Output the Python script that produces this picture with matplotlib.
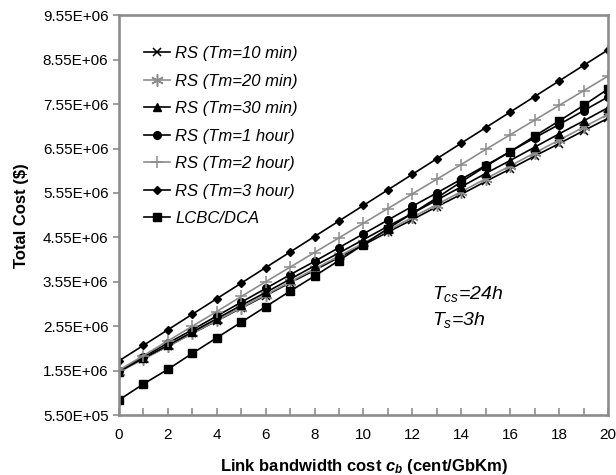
import matplotlib
matplotlib.use("Agg")
import matplotlib.pyplot as plt
from matplotlib.ticker import FixedLocator, FuncFormatter, MultipleLocator

plt.rcParams["font.family"] = ["Liberation Sans", "DejaVu Sans"]
plt.rcParams["mathtext.fontset"] = "custom"
plt.rcParams["mathtext.rm"] = "Liberation Sans"
plt.rcParams["mathtext.it"] = "Liberation Sans:italic"
plt.rcParams["mathtext.bf"] = "Liberation Sans:bold"
plt.rcParams["mathtext.bfit"] = "Liberation Sans:bold:italic"

GRAY = "#8c8c8c"

# link bandwidth cost (cent/GbKm)
cb = list(range(21))

# total cost ($) in units of 1e6
rs_10min = [1.53, 1.82, 2.10, 2.39, 2.67, 2.96, 3.24, 3.53, 3.81, 4.10, 4.38,
            4.67, 4.95, 5.24, 5.52, 5.81, 6.09, 6.38, 6.66, 6.95, 7.23]
rs_20min = [1.52, 1.81, 2.10, 2.39, 2.68, 2.97, 3.26, 3.55, 3.84, 4.13, 4.42,
            4.71, 5.00, 5.29, 5.58, 5.87, 6.16, 6.45, 6.74, 7.03, 7.32]
rs_30min = [1.53, 1.83, 2.12, 2.42, 2.72, 3.02, 3.31, 3.61, 3.91, 4.20, 4.50,
            4.80, 5.09, 5.39, 5.69, 5.99, 6.28, 6.58, 6.88, 7.17, 7.47]
rs_1hour = [1.55, 1.86, 2.17, 2.47, 2.78, 3.09, 3.40, 3.71, 4.01, 4.32, 4.63,
            4.94, 5.25, 5.55, 5.86, 6.17, 6.48, 6.79, 7.09, 7.40, 7.71]
rs_2hour = [1.56, 1.89, 2.22, 2.55, 2.88, 3.22, 3.55, 3.88, 4.21, 4.54, 4.87,
            5.20, 5.53, 5.86, 6.19, 6.53, 6.86, 7.19, 7.52, 7.85, 8.18]
rs_3hour = [1.77, 2.12, 2.47, 2.82, 3.17, 3.52, 3.87, 4.22, 4.57, 4.92, 5.27,
            5.62, 5.97, 6.32, 6.67, 7.02, 7.37, 7.72, 8.07, 8.42, 8.77]
lcbc_dca = [0.89, 1.25, 1.58, 1.94, 2.29, 2.64, 2.99, 3.34, 3.68, 4.03, 4.39,
            4.75, 5.09, 5.44, 5.80, 6.15, 6.48, 6.83, 7.17, 7.52, 7.89]

y_ticks = [0.55, 1.55, 2.55, 3.55, 4.55, 5.55, 6.55, 7.55, 8.55, 9.55]

series = [
    ("RS (Tm=10 min)", rs_10min, "black", "x", 6, 1.1),
    ("RS (Tm=20 min)", rs_20min, GRAY, (6, 2, 0), 9, 1.1),
    ("RS (Tm=30 min)", rs_30min, "black", "^", 6, 1.0),
    ("RS (Tm=1 hour)", rs_1hour, "black", "o", 5.5, 1.0),
    ("RS (Tm=2 hour)", rs_2hour, GRAY, "+", 9, 1.1),
    ("RS (Tm=3 hour)", rs_3hour, "black", "D", 4, 1.0),
    ("LCBC/DCA", lcbc_dca, "black", "s", 5.5, 1.0),
]


def main() -> None:
    fig = plt.figure(figsize=(6.16, 4.75), dpi=100)
    ax = fig.add_axes([0.193, 0.126, 0.794, 0.842])

    for label, vals, color, marker, ms, mew in series:
        ax.plot(cb, [v * 1e6 for v in vals], color=color, marker=marker,
                markersize=ms, markeredgewidth=mew, linewidth=1.2, label=label)

    ax.set_xlim(0, 20)
    ax.set_ylim(0.55e6, 9.55e6)
    ax.xaxis.set_major_locator(MultipleLocator(2))
    ax.xaxis.set_minor_locator(MultipleLocator(1))
    ax.yaxis.set_major_locator(FixedLocator([t * 1e6 for t in y_ticks]))
    ax.yaxis.set_major_formatter(FuncFormatter(lambda v, p: "%.2E" % v))

    for side in ax.spines.values():
        side.set_color(GRAY)
        side.set_linewidth(1.9)
    ax.tick_params(axis="x", which="both", direction="in", length=5,
                   color=GRAY, width=1.2, labelsize=11, pad=9)
    ax.tick_params(axis="y", direction="out", length=4, color=GRAY,
                   width=1.2, labelsize=11)

    ax.set_xlabel(r"Link bandwidth cost $\mathbfit{c_b}$ (cent/GbKm)",
                  fontsize=12, fontweight="bold", labelpad=11)
    ax.set_ylabel("Total Cost ($)", fontsize=12, fontweight="bold",
                  labelpad=10)

    ax.text(0.64, 0.29, r"$\mathit{T_{cs}}$=24h", transform=ax.transAxes,
            fontsize=14, style="italic")
    ax.text(0.64, 0.225, r"$\mathit{T_{s}}$=3h", transform=ax.transAxes,
            fontsize=14, style="italic")

    ax.legend(loc="upper left", bbox_to_anchor=(0.02, 0.96),
              frameon=False, prop={"size": 12, "style": "italic"},
              labelspacing=0.75, handlelength=1.6, handletextpad=0.3)

    fig.savefig("out.png", dpi=100)


if __name__ == "__main__":
    main()
